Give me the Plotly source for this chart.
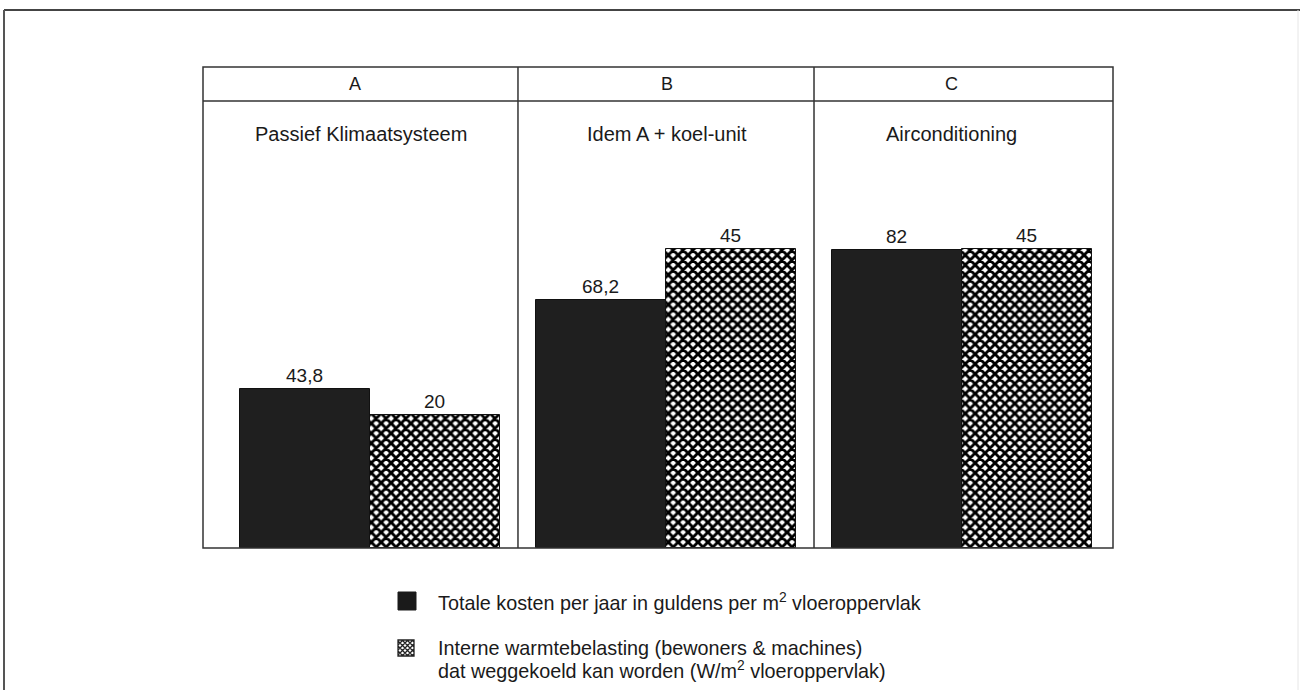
import plotly.graph_objects as go

# --- data ---------------------------------------------------------------
systems = ["A", "B", "C"]
system_names = ["Passief Klimaatsysteem", "Idem A + koel-unit", "Airconditioning"]
cost_per_m2 = [43.8, 68.2, 82]          # guldens per m2 per year
internal_heat = [20, 45, 45]            # W/m2 that can be cooled away
legend_lines = [
    ["Totale kosten per jaar in guldens per m<sup>2</sup> vloeroppervlak"],
    ["Interne warmtebelasting (bewoners & machines)",
     "dat weggekoeld kan worden (W/m<sup>2</sup> vloeroppervlak)"],
]

# --- page geometry (pixels) -------------------------------------------
W, H = 1304, 690
PL, PR, PT, PB = 203, 1113, 67, 548          # plot area edges
PW, PH = PR - PL, PB - PT


def px(x):
    return (x - PL) / PW


def py(y):
    return (PB - y) / PH


FONT = "Liberation Sans, Arial, Helvetica, sans-serif"
INK = "#1a1a1a"
BAR_W = 0.44


def fmt(v):
    return f"{v:g}".replace(".", ",")


fig = go.Figure()

fig.add_trace(go.Bar(
    x=systems, y=cost_per_m2, yaxis="y",
    offset=-BAR_W, width=BAR_W,
    marker=dict(color="#1f1f1f", line=dict(color="#111111", width=1)),
    text=[fmt(v) for v in cost_per_m2], textposition="outside",
    textfont=dict(family=FONT, size=19, color=INK),
    cliponaxis=False, showlegend=False,
))

fig.add_trace(go.Bar(
    x=systems, y=internal_heat, yaxis="y2",
    offset=0, width=BAR_W,
    marker=dict(color="white", line=dict(color="#111111", width=1),
                pattern=dict(shape="x", size=7, solidity=0.65, fgopacity=1,
                             fgcolor="#000000", bgcolor="white")),
    text=[fmt(v) for v in internal_heat], textposition="outside",
    textfont=dict(family=FONT, size=19, color=INK),
    cliponaxis=False, showlegend=False,
))

shapes = []
line = dict(color="#333333", width=1.5)

# panel frame, header row and column dividers
shapes.append(dict(type="rect", xref="paper", yref="paper", x0=0, x1=1, y0=0, y1=1, line=line))
shapes.append(dict(type="line", xref="paper", yref="paper", x0=0, x1=1,
                   y0=py(101), y1=py(101), line=line))
for d in (0.5, 1.5):
    shapes.append(dict(type="line", xref="x", yref="paper", x0=d, x1=d, y0=0, y1=1, line=line))

# outer page border
shapes.append(dict(type="line", xref="paper", yref="paper", x0=px(4), x1=px(1300),
                   y0=py(10), y1=py(10), line=dict(color="#444444", width=2)))
shapes.append(dict(type="line", xref="paper", yref="paper", x0=px(4), x1=px(4),
                   y0=py(10), y1=py(690), line=dict(color="#555555", width=2)))
shapes.append(dict(type="line", xref="paper", yref="paper", x0=px(1298), x1=px(1298),
                   y0=py(10), y1=py(690), line=dict(color="#e6e6e6", width=1)))

# legend swatches
shapes.append(dict(type="rect", xref="paper", yref="paper", x0=px(398), x1=px(416),
                   y0=py(610), y1=py(592), fillcolor="#1a1a1a", line=dict(color="#1a1a1a", width=1)))
s = 8
hatch = [f"M{-s},{-s}L{s},{-s}L{s},{s}L{-s},{s}Z"]
step = 5
for k in range(-2 * s + step, 2 * s, step):
    # lines x - y = k and x + y = k clipped to the square
    a0, a1 = max(-s, -s + k), min(s, s + k)
    hatch.append(f"M{a0},{a0 - k}L{a1},{a1 - k}")
    b0, b1 = max(-s, k - s), min(s, k + s)
    hatch.append(f"M{b0},{k - b0}L{b1},{k - b1}")
shapes.append(dict(type="path", xref="paper", yref="paper", xsizemode="pixel", ysizemode="pixel",
                   xanchor=px(406), yanchor=py(648), path="".join(hatch),
                   line=dict(color="#222222", width=1.3)))

annotations = []
for code, hx in zip(systems, [355, 667, 951]):
    annotations.append(dict(x=px(hx), xref="paper", y=py(84), yref="paper", text=code,
                            xanchor="center", yanchor="middle", showarrow=False,
                            font=dict(family=FONT, size=18, color=INK)))
for name, sx in zip(system_names, [361, 667, 951]):
    annotations.append(dict(x=px(sx), xref="paper", y=py(134), yref="paper", text=name,
                            xanchor="center", yanchor="middle", showarrow=False,
                            font=dict(family=FONT, size=20, color=INK)))

legend_rows = [(legend_lines[0][0], 601), (legend_lines[1][0], 648), (legend_lines[1][1], 669)]
for txt, ly in legend_rows:
    annotations.append(dict(x=px(436), xref="paper", y=py(ly), yref="paper", text=txt,
                            xanchor="left", yanchor="middle", showarrow=False, align="left",
                            font=dict(family=FONT, size=19.8, color=INK)))

fig.update_layout(
    width=W, height=H,
    margin=dict(l=PL, r=W - PR, t=PT, b=H - PB, pad=0),
    paper_bgcolor="white", plot_bgcolor="white",
    bargap=0, barmode="overlay",
    xaxis=dict(range=[-0.564, 2.51], showticklabels=False, showgrid=False, zeroline=False,
               ticks="", fixedrange=True),
    yaxis=dict(range=[0, PH / 3.64], visible=False, showgrid=False, fixedrange=True),
    yaxis2=dict(range=[0, PH / 6.64], visible=False, overlaying="y", showgrid=False, fixedrange=True),
    shapes=shapes, annotations=annotations,
    font=dict(family=FONT, color=INK),
)

fig.write_html("out.html")
